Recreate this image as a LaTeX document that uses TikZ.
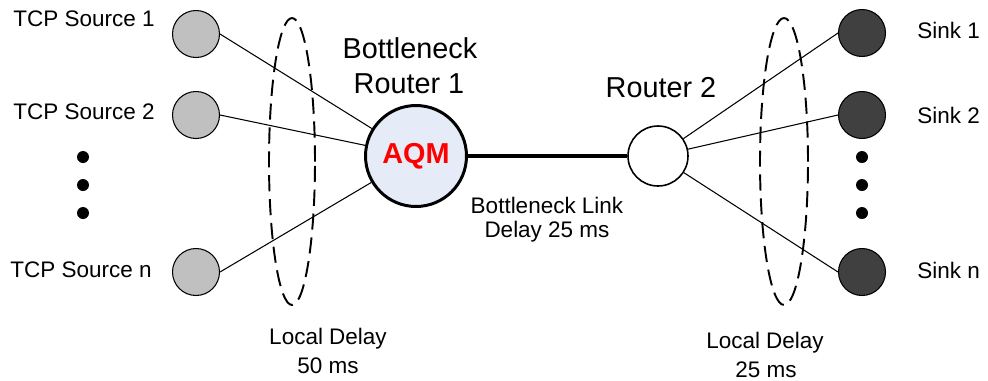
\documentclass[tikz,border=0pt]{standalone}
\usepackage{fontspec}
\setmainfont{Liberation Sans}
\usetikzlibrary{positioning}

\definecolor{srcgray}{RGB}{192,192,192}
\definecolor{sinkgray}{RGB}{64,64,64}
\definecolor{aqmfill}{RGB}{230,236,247}

\begin{document}
\begin{tikzpicture}[x=0.02cm,y=-0.02cm,
		host/.style={circle,draw,line width=0.6pt,minimum size=0.94cm,inner sep=0pt},
		src/.style={host,fill=srcgray},
		sink/.style={host,fill=sinkgray},
		lbl/.style={inner sep=0pt,font=\fontsize{12.8}{15}\selectfont},
		big/.style={inner sep=0pt,font=\fontsize{16.4}{19}\selectfont},
		link/.style={line width=0.6pt},
		zone/.style={line width=1.1pt,dash pattern=on 9.2pt off 4.4pt}]
		\useasboundingbox (0,0) rectangle (988,380);
		
		% sources and sinks
		\node[src] (s1) at (196,34) {};
		\node[src] (s2) at (196,115) {};
		\node[src] (sn) at (196,272) {};
		\node[sink] (k1) at (862,33) {};
		\node[sink] (k2) at (862,115) {};
		\node[sink] (kn) at (862,272) {};
		\foreach \y in {157,185,213} {
			\fill (83,\y) circle (0.12cm);
			\fill (862,\y) circle (0.12cm);
		}
		
		\node[lbl,anchor=east] (ls1) at (155,19) {TCP Source 1};
		\node[lbl,anchor=east] (ls2) at (155,112) {TCP Source 2};
		\node[lbl,anchor=east] (lsn) at (152,270) {TCP Source n};
		\node[lbl,anchor=west] (lk1) at (917,30) {Sink 1};
		\node[lbl,anchor=west] (lk2) at (917,115) {Sink 2};
		\node[lbl,anchor=west] (lkn) at (917,270) {Sink n};
		
		% routers
		\node[circle,draw,line width=1.7pt,fill=aqmfill,minimum size=2.02cm,inner sep=0pt,
			font=\fontsize{16.4}{19}\selectfont\bfseries,text=red] (r1) at (416,156) {AQM};
		\node[circle,draw,line width=0.9pt,fill=white,minimum size=1.2cm] (r2) at (658,156) {};
		\node[big] (r1a) at (410,48) {Bottleneck};
		\node[big] (r1b) at (409,84) {Router 1};
		\node[big] (r2l) at (661,88) {Router 2};
		
		\foreach \s in {s1,s2,sn} \draw[link] (\s.east) -- (r1);
		\foreach \k in {k1,k2,kn} \draw[link] (r2) -- (\k.west);
		\draw[line width=2.8pt] (r1) -- (r2);
		
		\node[lbl] (bl1) at (547,205) {Bottleneck Link};
		\node[lbl] (bl2) at (547,232) {Delay 25 ms};
		
		% local delay zones
		\draw[zone] (292,161.5) ellipse (0.46cm and 2.87cm);
		\draw[zone] (784,161.5) ellipse (0.48cm and 2.87cm);
		\node[lbl] (ld1) at (328,339) {Local Delay};
		\node[lbl] (ld2) at (328,366) {50 ms};
		\node[lbl] (rd1) at (765,343) {Local Delay};
		\node[lbl] (rd2) at (766,370) {25 ms};
	\end{tikzpicture}
\end{document}
